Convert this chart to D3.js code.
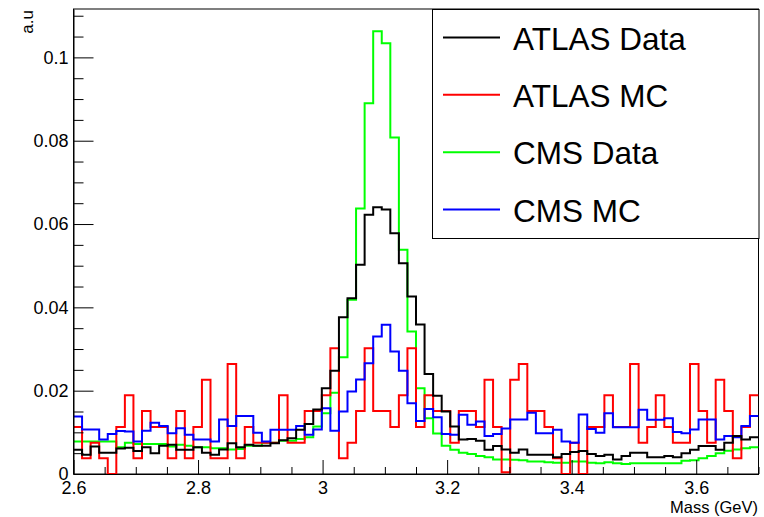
<!DOCTYPE html>
<html>
<head>
<meta charset="utf-8">
<script src="https://cdn.jsdelivr.net/npm/d3@7"></script>
<style>
  html, body { margin: 0; padding: 0; background: #fff; }
  svg { display: block; font-family: "Liberation Sans", Arial, Helvetica, sans-serif; }
</style>
</head>
<body>
<svg id="chart" width="764" height="517"></svg>
<script>
// ---- data (80 bins from 2.6 to 3.7 GeV) ----
const xRange = [2.6, 3.7];
const xTickValues = [2.6, 2.8, 3.0, 3.2, 3.4, 3.6];
const yTickValues = [0, 0.02, 0.04, 0.06, 0.08, 0.1];
const seriesNames = ["ATLAS Data", "ATLAS MC", "CMS Data", "CMS MC"];
const seriesColors = ["#000000", "#ff0000", "#00ff00", "#0000ff"];

const atlasData = [
  0.0058, 0.0046, 0.0066, 0.0051, 0.0051, 0.0061, 0.0063, 0.0055, 0.0064, 0.0050,
  0.0068, 0.0070, 0.0058, 0.0058, 0.0064, 0.0051, 0.0046, 0.0059, 0.0074, 0.0064,
  0.0070, 0.0068, 0.0068, 0.0074, 0.0081, 0.0086, 0.0106, 0.0120, 0.0155, 0.0206,
  0.0248, 0.0376, 0.0422, 0.0502, 0.0622, 0.0640, 0.0635, 0.0578, 0.0506, 0.0426,
  0.0359, 0.0240, 0.0188, 0.0150, 0.0114, 0.0083, 0.0084, 0.0080, 0.0058, 0.0067,
  0.0059, 0.0051, 0.0059, 0.0046, 0.0046, 0.0046, 0.0040, 0.0048, 0.0053, 0.0055,
  0.0048, 0.0043, 0.0046, 0.0035, 0.0043, 0.0051, 0.0051, 0.0040, 0.0040, 0.0043,
  0.0040, 0.0050, 0.0058, 0.0067, 0.0067, 0.0058, 0.0075, 0.0091, 0.0083, 0.0088
];
const atlasMC = [
  0.0113, 0.0038, 0.0075, 0.0038, 0.0000, 0.0113, 0.0189, 0.0038, 0.0151, 0.0113,
  0.0113, 0.0038, 0.0151, 0.0038, 0.0113, 0.0226, 0.0038, 0.0038, 0.0264, 0.0038,
  0.0113, 0.0075, 0.0075, 0.0075, 0.0189, 0.0075, 0.0075, 0.0151, 0.0151, 0.0189,
  0.0302, 0.0038, 0.0075, 0.0151, 0.0302, 0.0151, 0.0151, 0.0113, 0.0189, 0.0302,
  0.0113, 0.0189, 0.0151, 0.0151, 0.0075, 0.0151, 0.0151, 0.0113, 0.0226, 0.0113,
  0.0004, 0.0226, 0.0264, 0.0151, 0.0151, 0.0113, 0.0038, 0.0000, 0.0075, 0.0000,
  0.0113, 0.0113, 0.0189, 0.0113, 0.0113, 0.0264, 0.0075, 0.0113, 0.0189, 0.0113,
  0.0075, 0.0075, 0.0264, 0.0151, 0.0075, 0.0226, 0.0151, 0.0038, 0.0113, 0.0189
];
const cmsData = [
  0.0078, 0.0078, 0.0078, 0.0078, 0.0078, 0.0064, 0.0075, 0.0072, 0.0072, 0.0072,
  0.0072, 0.0066, 0.0070, 0.0068, 0.0064, 0.0064, 0.0062, 0.0062, 0.0059, 0.0060,
  0.0068, 0.0068, 0.0075, 0.0075, 0.0080, 0.0080, 0.0084, 0.0088, 0.0114, 0.0146,
  0.0195, 0.0280, 0.0418, 0.0637, 0.0890, 0.1063, 0.1034, 0.0808, 0.0538, 0.0342,
  0.0206, 0.0134, 0.0097, 0.0068, 0.0058, 0.0051, 0.0048, 0.0043, 0.0040, 0.0035,
  0.0035, 0.0034, 0.0033, 0.0030, 0.0030, 0.0028, 0.0027, 0.0027, 0.0030, 0.0030,
  0.0027, 0.0026, 0.0028, 0.0026, 0.0024, 0.0026, 0.0026, 0.0026, 0.0026, 0.0026,
  0.0026, 0.0032, 0.0033, 0.0038, 0.0043, 0.0050, 0.0056, 0.0059, 0.0062, 0.0064
];
const cmsMC = [
  0.0138, 0.0107, 0.0107, 0.0083, 0.0096, 0.0103, 0.0102, 0.0078, 0.0104, 0.0123,
  0.0115, 0.0098, 0.0110, 0.0094, 0.0083, 0.0083, 0.0078, 0.0131, 0.0115, 0.0139,
  0.0139, 0.0099, 0.0078, 0.0106, 0.0106, 0.0106, 0.0115, 0.0094, 0.0107, 0.0158,
  0.0104, 0.0150, 0.0198, 0.0227, 0.0266, 0.0330, 0.0358, 0.0294, 0.0248, 0.0170,
  0.0127, 0.0156, 0.0136, 0.0096, 0.0094, 0.0142, 0.0118, 0.0126, 0.0091, 0.0096,
  0.0109, 0.0131, 0.0131, 0.0147, 0.0098, 0.0098, 0.0106, 0.0078, 0.0075, 0.0143,
  0.0108, 0.0099, 0.0146, 0.0112, 0.0112, 0.0112, 0.0154, 0.0130, 0.0130, 0.0134,
  0.0101, 0.0098, 0.0107, 0.0131, 0.0131, 0.0083, 0.0091, 0.0088, 0.0115, 0.0139
];

// ---- layout ----
const L = 73.5, R = 758.5, T = 9, B = 474;
const svg = d3.select("#chart");
const font = '"Liberation Sans", Arial, Helvetica, sans-serif';

const x = d3.scaleLinear().domain(xRange).range([L, R]);
const yMax = 1.05 * d3.max(cmsData);
const y = d3.scaleLinear().domain([0, yMax]).range([B, T]);

// clip
svg.append("clipPath").attr("id", "plotclip")
  .append("rect").attr("x", L).attr("y", T).attr("width", R - L).attr("height", B - T);

// frame
svg.append("rect").attr("x", L).attr("y", T).attr("width", R - L).attr("height", B - T)
  .attr("fill", "none").attr("stroke", "#000").attr("stroke-width", 1);

// histograms
function stepPoints(vals) {
  const n = vals.length;
  const w = (xRange[1] - xRange[0]) / n;
  const pts = [];
  vals.forEach((v, i) => {
    pts.push([xRange[0] + i * w, v]);
    pts.push([xRange[0] + (i + 1) * w, v]);
  });
  return pts;
}
const line = d3.line().x(d => x(d[0])).y(d => y(d[1]));
const series = [
  { name: "CMS Data", vals: cmsData, color: seriesColors[2] },
  { name: "ATLAS MC", vals: atlasMC, color: seriesColors[1] },
  { name: "CMS MC", vals: cmsMC, color: seriesColors[3] },
  { name: "ATLAS Data", vals: atlasData, color: seriesColors[0] }
];
const g = svg.append("g").attr("clip-path", "url(#plotclip)");
series.forEach(s => {
  g.append("path").attr("d", line(stepPoints(s.vals)))
    .attr("fill", "none").attr("stroke", s.color).attr("stroke-width", 2)
    .attr("stroke-linejoin", "miter");
});

// axes
const fmt = d => String(+d.toFixed(3));
const xMinor = d3.range(2.6, 3.7001, 0.05).filter(v => !xTickValues.some(t => Math.abs(t - v) < 1e-6));
const yMinor = d3.range(0, yMax, 0.005).filter(v => !yTickValues.some(t => Math.abs(t - v) < 1e-6));

svg.append("g").attr("transform", `translate(0,${B})`)
  .call(d3.axisBottom(x).tickValues(xTickValues).tickFormat(fmt)
    .tickSizeInner(-14).tickSizeOuter(0).tickPadding(7));
svg.append("g").attr("transform", `translate(0,${B})`)
  .call(d3.axisBottom(x).tickValues(xMinor).tickFormat("")
    .tickSizeInner(-7).tickSizeOuter(0))
  .select(".domain").remove();

svg.append("g").attr("transform", `translate(${L},0)`)
  .call(d3.axisLeft(y).tickValues(yTickValues).tickFormat(fmt)
    .tickSizeInner(-20).tickSizeOuter(0).tickPadding(5));
svg.append("g").attr("transform", `translate(${L},0)`)
  .call(d3.axisLeft(y).tickValues(yMinor).tickFormat("")
    .tickSizeInner(-10).tickSizeOuter(0))
  .select(".domain").remove();

svg.selectAll(".tick text").attr("font-size", 18).attr("font-family", font).attr("fill", "#000");
svg.selectAll(".tick line").attr("stroke", "#000");
svg.selectAll(".domain").attr("stroke", "#000");

// axis titles
svg.append("text").attr("x", 758).attr("y", 513).attr("text-anchor", "end")
  .attr("font-size", 16.5).attr("font-family", font).text("Mass (GeV)");
svg.append("text").attr("transform", "translate(33,10) rotate(-90)")
  .attr("text-anchor", "end").attr("font-size", 17).attr("font-family", font).text("a.u");

// legend
const lg = svg.append("g");
lg.append("rect").attr("x", 432.5).attr("y", 9.5).attr("width", 326.5).attr("height", 229)
  .attr("fill", "#fff").attr("stroke", "#000").attr("stroke-width", 1);
const legendY = d3.scalePoint().domain(seriesNames).range([37.5, 209.5]);
seriesNames.forEach((name, i) => {
  const yy = legendY(name);
  lg.append("line").attr("x1", 443).attr("x2", 500).attr("y1", yy).attr("y2", yy)
    .attr("stroke", seriesColors[i]).attr("stroke-width", 2);
  lg.append("text").attr("x", 513).attr("y", yy + 12)
    .attr("font-size", 31.5).attr("font-family", font).attr("fill", "#000").text(name);
});
</script>
</body>
</html>
